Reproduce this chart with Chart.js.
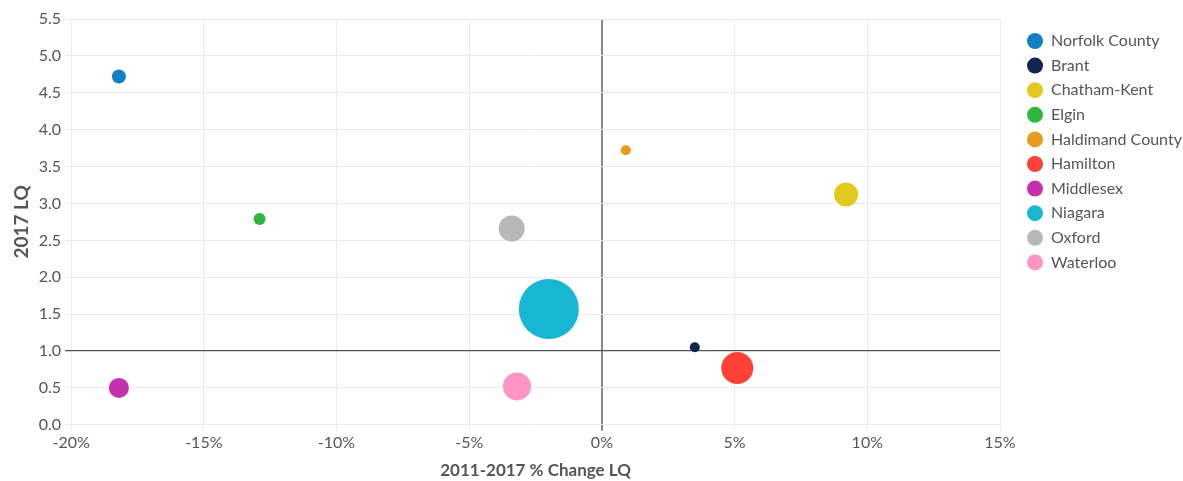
<!DOCTYPE html>
<html>
<head>
<meta charset="utf-8">
<script src="https://cdn.jsdelivr.net/npm/chart.js@4/dist/chart.umd.min.js"></script>
<style>
  html, body { margin:0; padding:0; background:#fff; }
  #wrap { width:1183px; height:481px; }
</style>
</head>
<body>
<div id="wrap"><canvas id="chart" width="1183" height="481"></canvas></div>
<script>
// regions and their values
const regions = ['Norfolk County','Brant','Chatham-Kent','Elgin','Haldimand County','Hamilton','Middlesex','Niagara','Oxford','Waterloo'];
const changeLQ = [-18.2, 3.5, 9.2, -12.9, 0.9, 5.1, -18.2, -2.0, -3.4, -3.2];   // 2011-2017 % change
const lq2017   = [4.72, 1.05, 3.12, 2.79, 3.72, 0.77, 0.50, 1.57, 2.66, 0.52];
const bubbleR  = [7, 5, 12, 6, 5, 16, 10, 30, 13, 14];
const colors   = ['#1380c4','#13254f','#e3c81e','#2db83d','#e89b1c','#fc4236','#c430ad','#17b6d3','#b8b8b8','#fd94c3'];

const xTicks = [-20, -15, -10, -5, 0, 5, 10, 15];

// legend box: fixed width so the plot stops at x=1000, items drawn a bit to the right
const LEGEND_W = 183;
const LEGEND_LEFT = 1018.4;
const LEGEND_TOP = 24.4;

const legendPlace = {
  id: 'legendPlace',
  beforeInit(chart) {
    const lg = chart.legend;
    const fit = lg.fit;
    lg.fit = function() { fit.call(this); this.width = LEGEND_W; };
  },
  afterLayout(chart) {
    const lg = chart.legend;
    lg.left = LEGEND_LEFT; lg.right = LEGEND_LEFT + LEGEND_W;
    lg.top = LEGEND_TOP;
  }
};

const datasets = regions.map((name, i) => ({
  label: name,
  data: [{ x: changeLQ[i], y: lq2017[i], r: bubbleR[i] }],
  backgroundColor: colors[i],
  borderColor: colors[i],
  borderWidth: 0,
  hoverRadius: 0
}));

const ctx = document.getElementById('chart').getContext('2d');
new Chart(ctx, {
  type: 'bubble',
  data: { datasets },
  plugins: [legendPlace],
  options: {
    responsive: false,
    animation: false,
    layout: { autoPadding: false, padding: { top: 19, right: 0, left: 10, bottom: 0 } },
    plugins: {
      tooltip: { enabled: false },
      legend: {
        position: 'right',
        align: 'start',
        labels: {
          usePointStyle: true,
          pointStyle: 'circle',
          boxWidth: 16,
          boxHeight: 11.3,
          padding: 8.6,
          color: '#555',
          font: { family: 'Lato', size: 16 }
        }
      }
    },
    scales: {
      x: {
        type: 'linear',
        min: -20, max: 15,
        afterBuildTicks: ax => { ax.ticks = xTicks.map(v => ({ value: v })); },
        ticks: { color: '#555', font: { family: 'Lato', size: 16 }, callback: v => v + '%', padding: 2 },
        grid: {
          color: c => c.tick && c.tick.value === 0 ? '#888' : '#ebebeb',
          lineWidth: c => c.tick && c.tick.value === 0 ? 2 : 1,
          tickLength: 6
        },
        border: { display: false },
        title: { display: true, text: '2011-2017 % Change LQ', color: '#555', font: { family: 'Lato', size: 17, weight: 'bold' }, padding: { top: 6.6, bottom: 0 } }
      },
      y: {
        min: 0, max: 5.5,
        ticks: { stepSize: 0.5, color: '#555', font: { family: 'Lato', size: 16 }, callback: v => v.toFixed(1), padding: 4 },
        grid: {
          color: c => c.tick && c.tick.value === 1 ? '#555' : '#ebebeb',
          lineWidth: c => c.tick && c.tick.value === 1 ? 1.3 : 1,
          tickLength: 6
        },
        border: { display: false },
        title: { display: true, text: '2017 LQ', color: '#555', font: { family: 'Lato', size: 19, weight: 'bold' }, padding: { top: 0, bottom: 2 } }
      }
    }
  }
});
</script>
</body>
</html>
